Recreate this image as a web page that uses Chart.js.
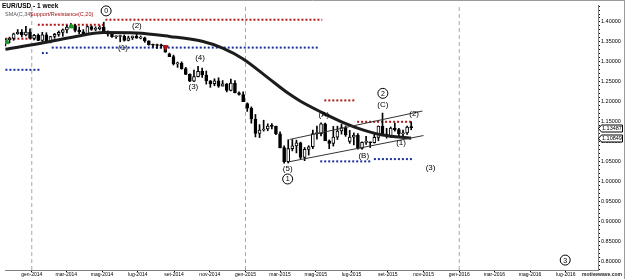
<!DOCTYPE html>
<html>
<head>
<meta charset="utf-8">
<title>EUR/USD - 1 week</title>
<script src="https://cdn.jsdelivr.net/npm/chart.js@4.4.1/dist/chart.umd.min.js"></script>
<style>
    html, body { margin: 0; padding: 0; background: #fff; }
    canvas { display: block; }
</style>
</head>
<body>
<canvas id="chart" width="625" height="279"></canvas>
<script>
// weekly candles, first one is the week of 17 Nov 2013 (days counted from 1 Jan 2014)
const firstDay = -45;
const opens = [
    1.3500, 1.3555, 1.3590, 1.3705, 1.3740, 1.3675, 1.3745, 1.3590, 1.3665, 1.3540,
    1.3675, 1.3485, 1.3635, 1.3690, 1.3740, 1.3800, 1.3870, 1.3910, 1.3790, 1.3750,
    1.3705, 1.3885, 1.3815, 1.3830, 1.3870, 1.3755, 1.3695, 1.3630, 1.3635, 1.3640,
    1.3540, 1.3605, 1.3645, 1.3595, 1.3605, 1.3525, 1.3430, 1.3415, 1.3410, 1.3400,
    1.3200, 1.3130, 1.2950, 1.2960, 1.2830, 1.2685, 1.2515, 1.2630, 1.2760, 1.2670,
    1.2525, 1.2450, 1.2525, 1.2390, 1.2450, 1.2285, 1.2465, 1.2225, 1.2180, 1.1950,
    1.1840, 1.1565, 1.1205, 1.1290, 1.1315, 1.1390, 1.1380, 1.1195, 1.0845, 1.0495,
    1.0820, 1.0890, 1.0970, 1.0600, 1.0805, 1.0870, 1.1200, 1.1200, 1.1445, 1.1015,
    1.0955, 1.1110, 1.1265, 1.1350, 1.1000, 1.1110, 1.1160, 1.0830, 1.0980, 1.0985,
    1.0970, 1.1105, 1.1385, 1.1185, 1.1150, 1.1340, 1.1300, 1.1195, 1.1215, 1.1360
];
const highs = [
    1.3580, 1.3620, 1.3720, 1.3810, 1.3810, 1.3893, 1.3830, 1.3690, 1.3700, 1.3740,
    1.3730, 1.3640, 1.3715, 1.3775, 1.3825, 1.3915, 1.3967, 1.3935, 1.3875, 1.3810,
    1.3905, 1.3905, 1.3880, 1.3905, 1.3993, 1.3775, 1.3735, 1.3650, 1.3670, 1.3675,
    1.3645, 1.3650, 1.3700, 1.3650, 1.3620, 1.3525, 1.3445, 1.3445, 1.3445, 1.3400,
    1.3220, 1.3170, 1.2995, 1.3000, 1.2860, 1.2700, 1.2790, 1.2887, 1.2840, 1.2770,
    1.2530, 1.2575, 1.2600, 1.2530, 1.2455, 1.2570, 1.2530, 1.2250, 1.2250, 1.1970,
    1.1870, 1.1680, 1.1425, 1.1535, 1.1445, 1.1450, 1.1390, 1.1245, 1.0890, 1.1045,
    1.1050, 1.1035, 1.0985, 1.0850, 1.0895, 1.1290, 1.1390, 1.1467, 1.1460, 1.1040,
    1.1380, 1.1385, 1.1435, 1.1390, 1.1280, 1.1215, 1.1200, 1.0990, 1.1130, 1.0990,
    1.1215, 1.1390, 1.1714, 1.1330, 1.1365, 1.1460, 1.1330, 1.1285, 1.1390, 1.1495
];
const lows = [
    1.3400, 1.3480, 1.3540, 1.3690, 1.3625, 1.3650, 1.3585, 1.3550, 1.3530, 1.3510,
    1.3475, 1.3475, 1.3590, 1.3640, 1.3640, 1.3725, 1.3855, 1.3750, 1.3705, 1.3675,
    1.3705, 1.3790, 1.3785, 1.3800, 1.3755, 1.3645, 1.3615, 1.3585, 1.3503, 1.3520,
    1.3525, 1.3560, 1.3590, 1.3575, 1.3490, 1.3420, 1.3365, 1.3335, 1.3345, 1.3240,
    1.3130, 1.2920, 1.2860, 1.2815, 1.2680, 1.2500, 1.2500, 1.2620, 1.2610, 1.2440,
    1.2360, 1.2400, 1.2360, 1.2390, 1.2245, 1.2270, 1.2220, 1.2165, 1.2000, 1.1755,
    1.1460, 1.1115, 1.1100, 1.1260, 1.1270, 1.1315, 1.1175, 1.0840, 1.0457, 1.0460,
    1.0765, 1.0715, 1.0570, 1.0520, 1.0660, 1.0820, 1.1060, 1.1140, 1.1060, 1.0820,
    1.0885, 1.1050, 1.1185, 1.1130, 1.0955, 1.0915, 1.0810, 1.0810, 1.0925, 1.0850,
    1.0960, 1.1020, 1.1155, 1.1085, 1.1105, 1.1260, 1.1105, 1.1120, 1.1180, 1.1295
];
const closes = [
    1.3555, 1.3590, 1.3705, 1.3740, 1.3675, 1.3745, 1.3590, 1.3665, 1.3540, 1.3675,
    1.3485, 1.3635, 1.3690, 1.3740, 1.3800, 1.3870, 1.3910, 1.3790, 1.3750, 1.3705,
    1.3885, 1.3815, 1.3830, 1.3870, 1.3755, 1.3695, 1.3630, 1.3635, 1.3640, 1.3540,
    1.3605, 1.3645, 1.3595, 1.3605, 1.3525, 1.3430, 1.3415, 1.3410, 1.3400, 1.3240,
    1.3130, 1.2950, 1.2960, 1.2830, 1.2685, 1.2515, 1.2630, 1.2760, 1.2670, 1.2525,
    1.2450, 1.2525, 1.2390, 1.2450, 1.2285, 1.2465, 1.2225, 1.2180, 1.2000, 1.1840,
    1.1565, 1.1205, 1.1290, 1.1315, 1.1390, 1.1380, 1.1195, 1.0845, 1.0495, 1.0820,
    1.0890, 1.0970, 1.0600, 1.0805, 1.0870, 1.1200, 1.1200, 1.1445, 1.1015, 1.0955,
    1.1110, 1.1265, 1.1350, 1.1165, 1.1110, 1.1160, 1.0830, 1.0980, 1.0985, 1.0970,
    1.1105, 1.1385, 1.1185, 1.1150, 1.1340, 1.1300, 1.1195, 1.1215, 1.1360, 1.13487
];

// SMA(C,34) at some weeks
const smaWeeks  = [0, 8, 16, 24, 32, 40, 48, 53, 58, 64, 69, 72, 77, 82, 87, 92, 99];
const smaValues = [1.3318, 1.3453, 1.3613, 1.3736, 1.3724, 1.3638, 1.3515, 1.3342, 1.3071,
                   1.2603, 1.2209, 1.2012, 1.1741, 1.1495, 1.1300, 1.1163, 1.10849];

// Support/Resistance(C,20): [from week, to week, price]
const resistance = [[0, 7.6, 1.358], [7.9, 24.1, 1.393], [24.4, 77.3, 1.4057], [77.8, 85.3, 1.2032], [85.8, 99.2, 1.1495]];
const support    = [[0, 8.4, 1.280], [8.9, 10.3, 1.322], [11.3, 76.3, 1.3357], [76.8, 89.4, 1.0502], [89.9, 99.2, 1.0559]];

// wave count labels: [text, day, price, circled]
const waveLabels = [
    ['0', 127, 1.4278, true], ['(2)', 179.5, 1.3916, false], ['(1)', 155.8, 1.336, false],
    ['(4)', 287.4, 1.3113, false], ['(3)', 276, 1.2374, false], ['(A)', 499, 1.1675, false],
    ['2', 599.6, 1.2209, true], ['(C)', 599.6, 1.1921, false], ['(2)', 653, 1.170, false],
    ['(1)', 630.6, 1.096, false], ['(B)', 567, 1.065, false], ['(5)', 437, 1.0305, false],
    ['1', 437, 1.006, true], ['(3)', 681, 1.0337, false], ['3', 911, 0.8025, true]
];

// triangle lines: [day, price]
const upperLine = [[440.4, 1.1052], [667.3, 1.1766]];
const lowerLine = [[437, 1.0485], [669, 1.1150]];

// swing markers [day, price]
const greenMarks = [[-42.8, 1.3495], [67.7, 1.3889]];
const redMarks = [[228.6, 1.3367]];

const yearDays = [0, 365, 730];
const xTickDays = [0, 59, 120, 181, 243, 304, 365, 424, 485, 546, 608, 669, 730, 790, 851, 912];
const xTickLabels = ['gen-2014', 'mar-2014', 'mag-2014', 'lug-2014', 'set-2014', 'nov-2014',
                     'gen-2015', 'mar-2015', 'mag-2015', 'lug-2015', 'set-2015', 'nov-2015',
                     'gen-2016', 'mar-2016', 'mag-2016', 'lug-2016'];
const yTicks = [0.80, 0.85, 0.90, 0.95, 1.00, 1.05, 1.10, 1.15, 1.20, 1.25, 1.30, 1.35, 1.40];

const lastClose = 1.13487;
const lastSma = 1.10849;

const X_MIN = -45.7, X_MAX = 967;
const Y_MIN = 0.7776, Y_MAX = 1.4426;
const FONT = '"Liberation Sans", Arial, sans-serif';

const dayOf = i => firstDay + 7 * i;

const wicks = lows.map((l, i) => ({ x: dayOf(i), y: [l, highs[i]] }));
const bodies = opens.map((o, i) => ({ x: dayOf(i), y: [o, closes[i]] }));
const bodyColors = opens.map((o, i) => closes[i] >= o ? '#ffffff' : '#000000');

function segDataset(seg, color) {
    return {
        type: 'line',
        data: [{ x: dayOf(seg[0]), y: seg[2] }, { x: dayOf(seg[1]), y: seg[2] }],
        borderColor: color,
        borderWidth: 2,
        borderDash: [2, 2],
        pointRadius: 0,
        order: 9
    };
}

const datasets = [];

// year separators
yearDays.forEach(d => {
    datasets.push({
        type: 'line',
        data: [{ x: d, y: Y_MIN }, { x: d, y: Y_MAX }],
        borderColor: '#a8a8a8',
        borderWidth: 1,
        borderDash: [4, 3],
        pointRadius: 0,
        order: 10
    });
});

resistance.forEach(s => datasets.push(segDataset(s, '#b01818')));
support.forEach(s => datasets.push(segDataset(s, '#1a2f9a')));

datasets.push({
    type: 'bar',
    data: wicks,
    backgroundColor: '#000',
    barThickness: 1,
    grouped: false,
    order: 5
});
datasets.push({
    type: 'bar',
    data: bodies,
    backgroundColor: bodyColors,
    borderColor: '#000',
    borderWidth: 1,
    borderSkipped: false,
    barThickness: 3,
    minBarLength: 1,
    grouped: false,
    order: 4
});

datasets.push({
    type: 'line',
    data: smaWeeks.map((w, i) => ({ x: dayOf(w), y: smaValues[i] })),
    borderColor: '#1c1c1c',
    borderWidth: 3,
    cubicInterpolationMode: 'monotone',
    pointRadius: 0,
    order: 3
});

[upperLine, lowerLine].forEach(l => {
    datasets.push({
        type: 'line',
        data: l.map(p => ({ x: p[0], y: p[1] })),
        borderColor: '#333',
        borderWidth: 1,
        pointRadius: 0,
        order: 2
    });
});

datasets.push({
    type: 'line',
    data: greenMarks.map(p => ({ x: p[0], y: p[1] })),
    showLine: false,
    pointStyle: 'triangle',
    pointRadius: 3,
    backgroundColor: '#1f9a2a',
    borderColor: '#1f9a2a',
    order: 1
});
datasets.push({
    type: 'line',
    data: redMarks.map(p => ({ x: p[0], y: p[1] })),
    showLine: false,
    pointStyle: 'triangle',
    pointRotation: 180,
    pointRadius: 3,
    backgroundColor: '#b01010',
    borderColor: '#b01010',
    order: 1
});

const decor = {
    id: 'decor',
    afterDatasetsDraw(chart) {
        const ctx = chart.ctx;
        const xs = chart.scales.x, ys = chart.scales.y;
        ctx.save();
        ctx.fillStyle = '#000';
        ctx.strokeStyle = '#000';
        ctx.textAlign = 'center';
        ctx.textBaseline = 'middle';
        waveLabels.forEach(w => {
            const px = xs.getPixelForValue(w[1]);
            const py = ys.getPixelForValue(w[2]);
            if (w[3]) {
                ctx.fillStyle = '#fff';
                ctx.beginPath();
                ctx.arc(px, py, 5, 0, Math.PI * 2);
                ctx.fill();
                ctx.lineWidth = 1;
                ctx.stroke();
                ctx.fillStyle = '#000';
                ctx.font = '7px ' + FONT;
                ctx.fillText(w[0], px, py + 0.5);
            } else {
                ctx.font = '8px ' + FONT;
                ctx.fillText(w[0], px, py);
            }
        });
        ctx.restore();
    },
    afterDraw(chart) {
        const ctx = chart.ctx;
        const ys = chart.scales.y;
        const area = chart.chartArea;
        ctx.save();

        // frame
        ctx.strokeStyle = '#9a9a9a';
        ctx.lineWidth = 1;
        ctx.beginPath();
        ctx.moveTo(0, 0.5); ctx.lineTo(625, 0.5);
        ctx.moveTo(624.5, 0); ctx.lineTo(624.5, 279);
        ctx.stroke();

        // header
        ctx.textAlign = 'left';
        ctx.textBaseline = 'middle';
        ctx.fillStyle = '#000';
        ctx.font = 'bold 6.5px ' + FONT;
        ctx.fillText('EUR/USD - 1 week', 2, 6);
        ctx.font = '5.5px ' + FONT;
        ctx.fillStyle = '#555';
        ctx.fillText('SMA(C,34)', 5, 14.5);
        ctx.fillStyle = '#a01010';
        ctx.fillText('Support/Resistance(C,20)', 30, 14.5);

        // last price / sma boxes on the axis
        [lastClose, lastSma].forEach(v => {
            const py = Math.round(ys.getPixelForValue(v)) + 0.5;
            const x0 = area.right;
            ctx.beginPath();
            ctx.moveTo(x0 + 0.5, py);
            ctx.lineTo(x0 + 3.5, py - 3.5);
            ctx.lineTo(622.5, py - 3.5);
            ctx.lineTo(622.5, py + 3.5);
            ctx.lineTo(x0 + 3.5, py + 3.5);
            ctx.closePath();
            ctx.fillStyle = '#fff';
            ctx.fill();
            ctx.strokeStyle = '#000';
            ctx.stroke();
            ctx.fillStyle = '#000';
            ctx.font = '5.5px ' + FONT;
            ctx.fillText(v.toFixed(5), x0 + 4, py + 0.3);
        });

        // watermark
        ctx.font = 'bold 5px ' + FONT;
        ctx.fillStyle = '#222';
        ctx.textAlign = 'right';
        ctx.fillText('motivewave.com', 622, 275);
        ctx.restore();
    }
};

new Chart(document.getElementById('chart'), {
    type: 'bar',
    data: { datasets: datasets },
    options: {
        responsive: false,
        animation: false,
        devicePixelRatio: 1,
        layout: { padding: 0 },
        plugins: { legend: { display: false }, tooltip: { enabled: false } },
        scales: {
            x: {
                type: 'linear',
                min: X_MIN,
                max: X_MAX,
                offset: false,
                afterBuildTicks: s => { s.ticks = xTickDays.map(v => ({ value: v })); },
                afterFit: s => { s.height = 9; s.paddingLeft = 0; s.paddingRight = 0; },
                ticks: {
                    autoSkip: false,
                    maxRotation: 0,
                    padding: 0,
                    color: '#000',
                    font: { size: 5, family: FONT },
                    callback: (v, i) => xTickLabels[i]
                },
                grid: { drawOnChartArea: false, offset: false, tickLength: 2, color: '#000' },
                border: { color: '#808080' }
            },
            y: {
                type: 'linear',
                position: 'right',
                min: Y_MIN,
                max: Y_MAX,
                afterBuildTicks: s => {
                    const t = [];
                    for (let k = Math.round(yTicks[0] * 100) - 2; k <= Math.round(yTicks[yTicks.length - 1] * 100) + 4; k++) {
                        t.push({ value: k / 100 });
                    }
                    s.ticks = t;
                },
                afterFit: s => { s.width = 27; s.paddingTop = 0; s.paddingBottom = 0; },
                ticks: {
                    autoSkip: false,
                    padding: 1,
                    color: '#000',
                    font: { size: 5.5, family: FONT },
                    callback: v => yTicks.some(t => Math.abs(t - v) < 1e-6) ? v.toFixed(5) : ''
                },
                grid: { drawOnChartArea: false, tickLength: 2, color: '#000' },
                border: { color: '#808080' }
            }
        }
    },
    plugins: [decor]
});
</script>
</body>
</html>
